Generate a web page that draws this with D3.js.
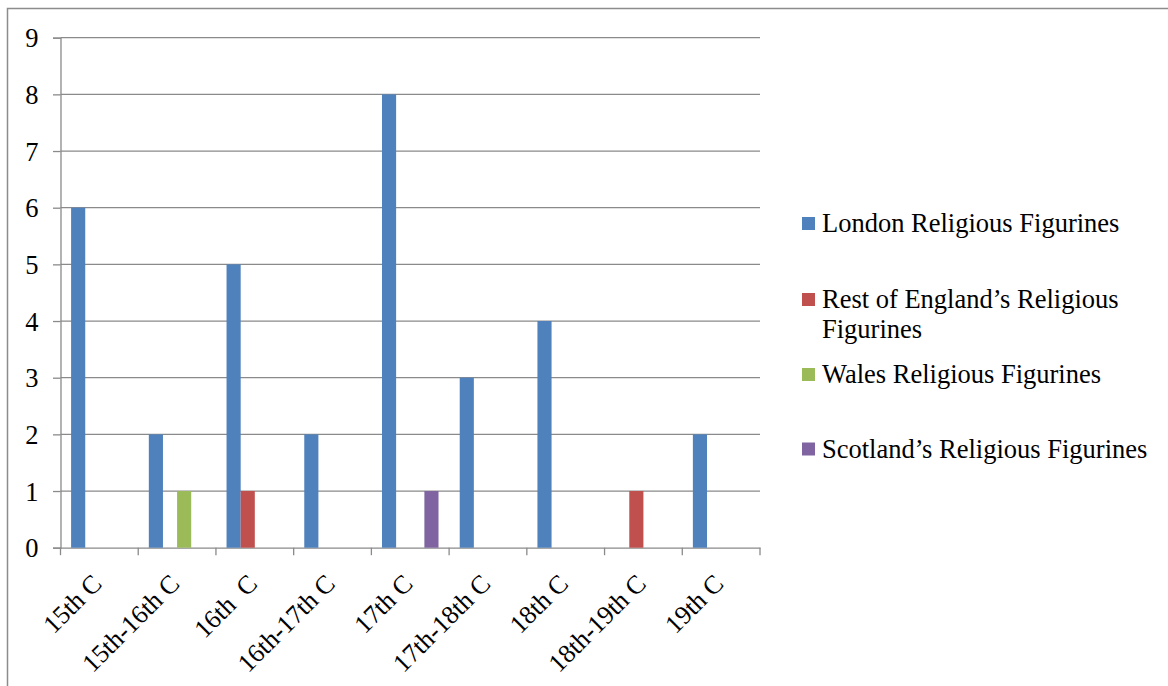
<!DOCTYPE html>
<html><head><meta charset="utf-8">
<script src="https://cdn.jsdelivr.net/npm/d3@7"></script>
<style>body{margin:0;background:#fff;} svg{display:block;} text{font-family:"Liberation Serif","Times New Roman",serif;}</style>
</head><body>
<svg id="c" width="1168" height="686"></svg>
<script>
const categories = ["15th C","15th-16th C","16th  C","16th-17th C","17th C","17th-18th C","18th C","18th-19th C","19th C"];
const seriesNames = ["London Religious Figurines","Rest of England\u2019s Religious Figurines","Wales Religious Figurines","Scotland\u2019s Religious Figurines"];
const londonValues   = [6,2,5,2,8,3,4,0,2];
const restEngValues  = [0,0,1,0,0,0,0,1,0];
const walesValues    = [0,1,0,0,0,0,0,0,0];
const scotlandValues = [0,0,0,0,1,0,0,0,0];
const yTicks = [0,1,2,3,4,5,6,7,8,9];
const colors = ["#4F81BD","#C0504D","#9BBB59","#8064A2"];

const seriesValues = [londonValues, restEngValues, walesValues, scotlandValues];
const svg = d3.select("#c");
const FONT = '"Liberation Serif", serif';

// outer frame
svg.append("rect").attr("x",7.5).attr("y",8.5).attr("width",1200).attr("height",700)
  .attr("fill","none").attr("stroke","#8c8c8c").attr("stroke-width",1.5);

const x0 = d3.scaleBand().domain(categories).range([60.5,760]).padding(0);
const bw = x0.bandwidth();
const gapHalf = bw * 1.5 / 5.5 / 2;
const x1 = d3.scaleBand().domain(d3.range(seriesNames.length)).range([gapHalf, bw - gapHalf]).padding(0);
const y = d3.scaleLinear().domain([0,9]).range([547.7,37.7]);

// gridlines
svg.append("g").selectAll("line").data(yTicks.filter(d=>d>0)).join("line")
  .attr("x1",60.5).attr("x2",760).attr("y1",d=>y(d)).attr("y2",d=>y(d))
  .attr("stroke","#8a8a8a").attr("stroke-width",1.3);

// y axis
const yAxis = svg.append("g").attr("transform","translate(60.5,0)")
  .call(d3.axisLeft(y).tickValues(yTicks).tickSize(7.5).tickPadding(14.5).tickFormat(d3.format("d")));
yAxis.attr("font-family",null);
yAxis.select(".domain").attr("stroke","#8a8a8a").attr("stroke-width",1.3);
yAxis.selectAll(".tick line").attr("stroke","#8a8a8a").attr("stroke-width",1.3);
yAxis.selectAll(".tick text").style("font-family",FONT).style("font-size","26.5px")
  .attr("fill","#000").attr("dy","0.34em");

// x axis
const xAxis = svg.append("g").attr("transform",`translate(0,${y(0)})`)
  .call(d3.axisBottom(x0).tickSize(0).tickFormat(""));
xAxis.select(".domain").attr("stroke","#8a8a8a").attr("stroke-width",1.3);
xAxis.selectAll(".tick").remove();
const bounds = categories.map(c=>x0(c)).concat([760]);
xAxis.selectAll("line.tk").data(bounds).join("line").attr("class","tk")
  .attr("x1",d=>d).attr("x2",d=>d).attr("y1",0).attr("y2",7.5)
  .attr("stroke","#8a8a8a").attr("stroke-width",1.3);

// x labels
svg.append("g").selectAll("text").data(categories).join("text")
  .attr("transform",d=>`translate(${x0(d)+bw/2+4},${y(0)+37.5}) rotate(-45)`)
  .attr("text-anchor","end")
  .style("font-family",FONT).style("font-size","26px").attr("fill","#000")
  .style("white-space","pre")
  .text(d=>d);

// bars
const data = [];
categories.forEach((c,i)=>seriesValues.forEach((vals,s)=>{ if(vals[i]>0) data.push({c,s,v:vals[i]}); }));
svg.append("g").selectAll("rect").data(data).join("rect")
  .attr("x",d=>x0(d.c)+x1(d.s)).attr("width",x1.bandwidth())
  .attr("y",d=>y(d.v)).attr("height",d=>y(0)-y(d.v))
  .attr("fill",d=>colors[d.s]);

// legend
const legendY = [223.5, 299.5, 374.5, 449];
const lg = svg.append("g");
seriesNames.forEach((name,i)=>{
  lg.append("rect").attr("x",802).attr("y",legendY[i]-6.5).attr("width",13).attr("height",13).attr("fill",colors[i]);
  const lines = i===1 ? ["Rest of England\u2019s Religious","Figurines"] : [name];
  lines.forEach((ln,j)=>{
    lg.append("text").attr("x",822).attr("y",legendY[i]+8.5+j*29.5)
      .style("font-family",FONT).style("font-size","26.5px").attr("fill","#000").text(ln);
  });
});
</script>
</body></html>
